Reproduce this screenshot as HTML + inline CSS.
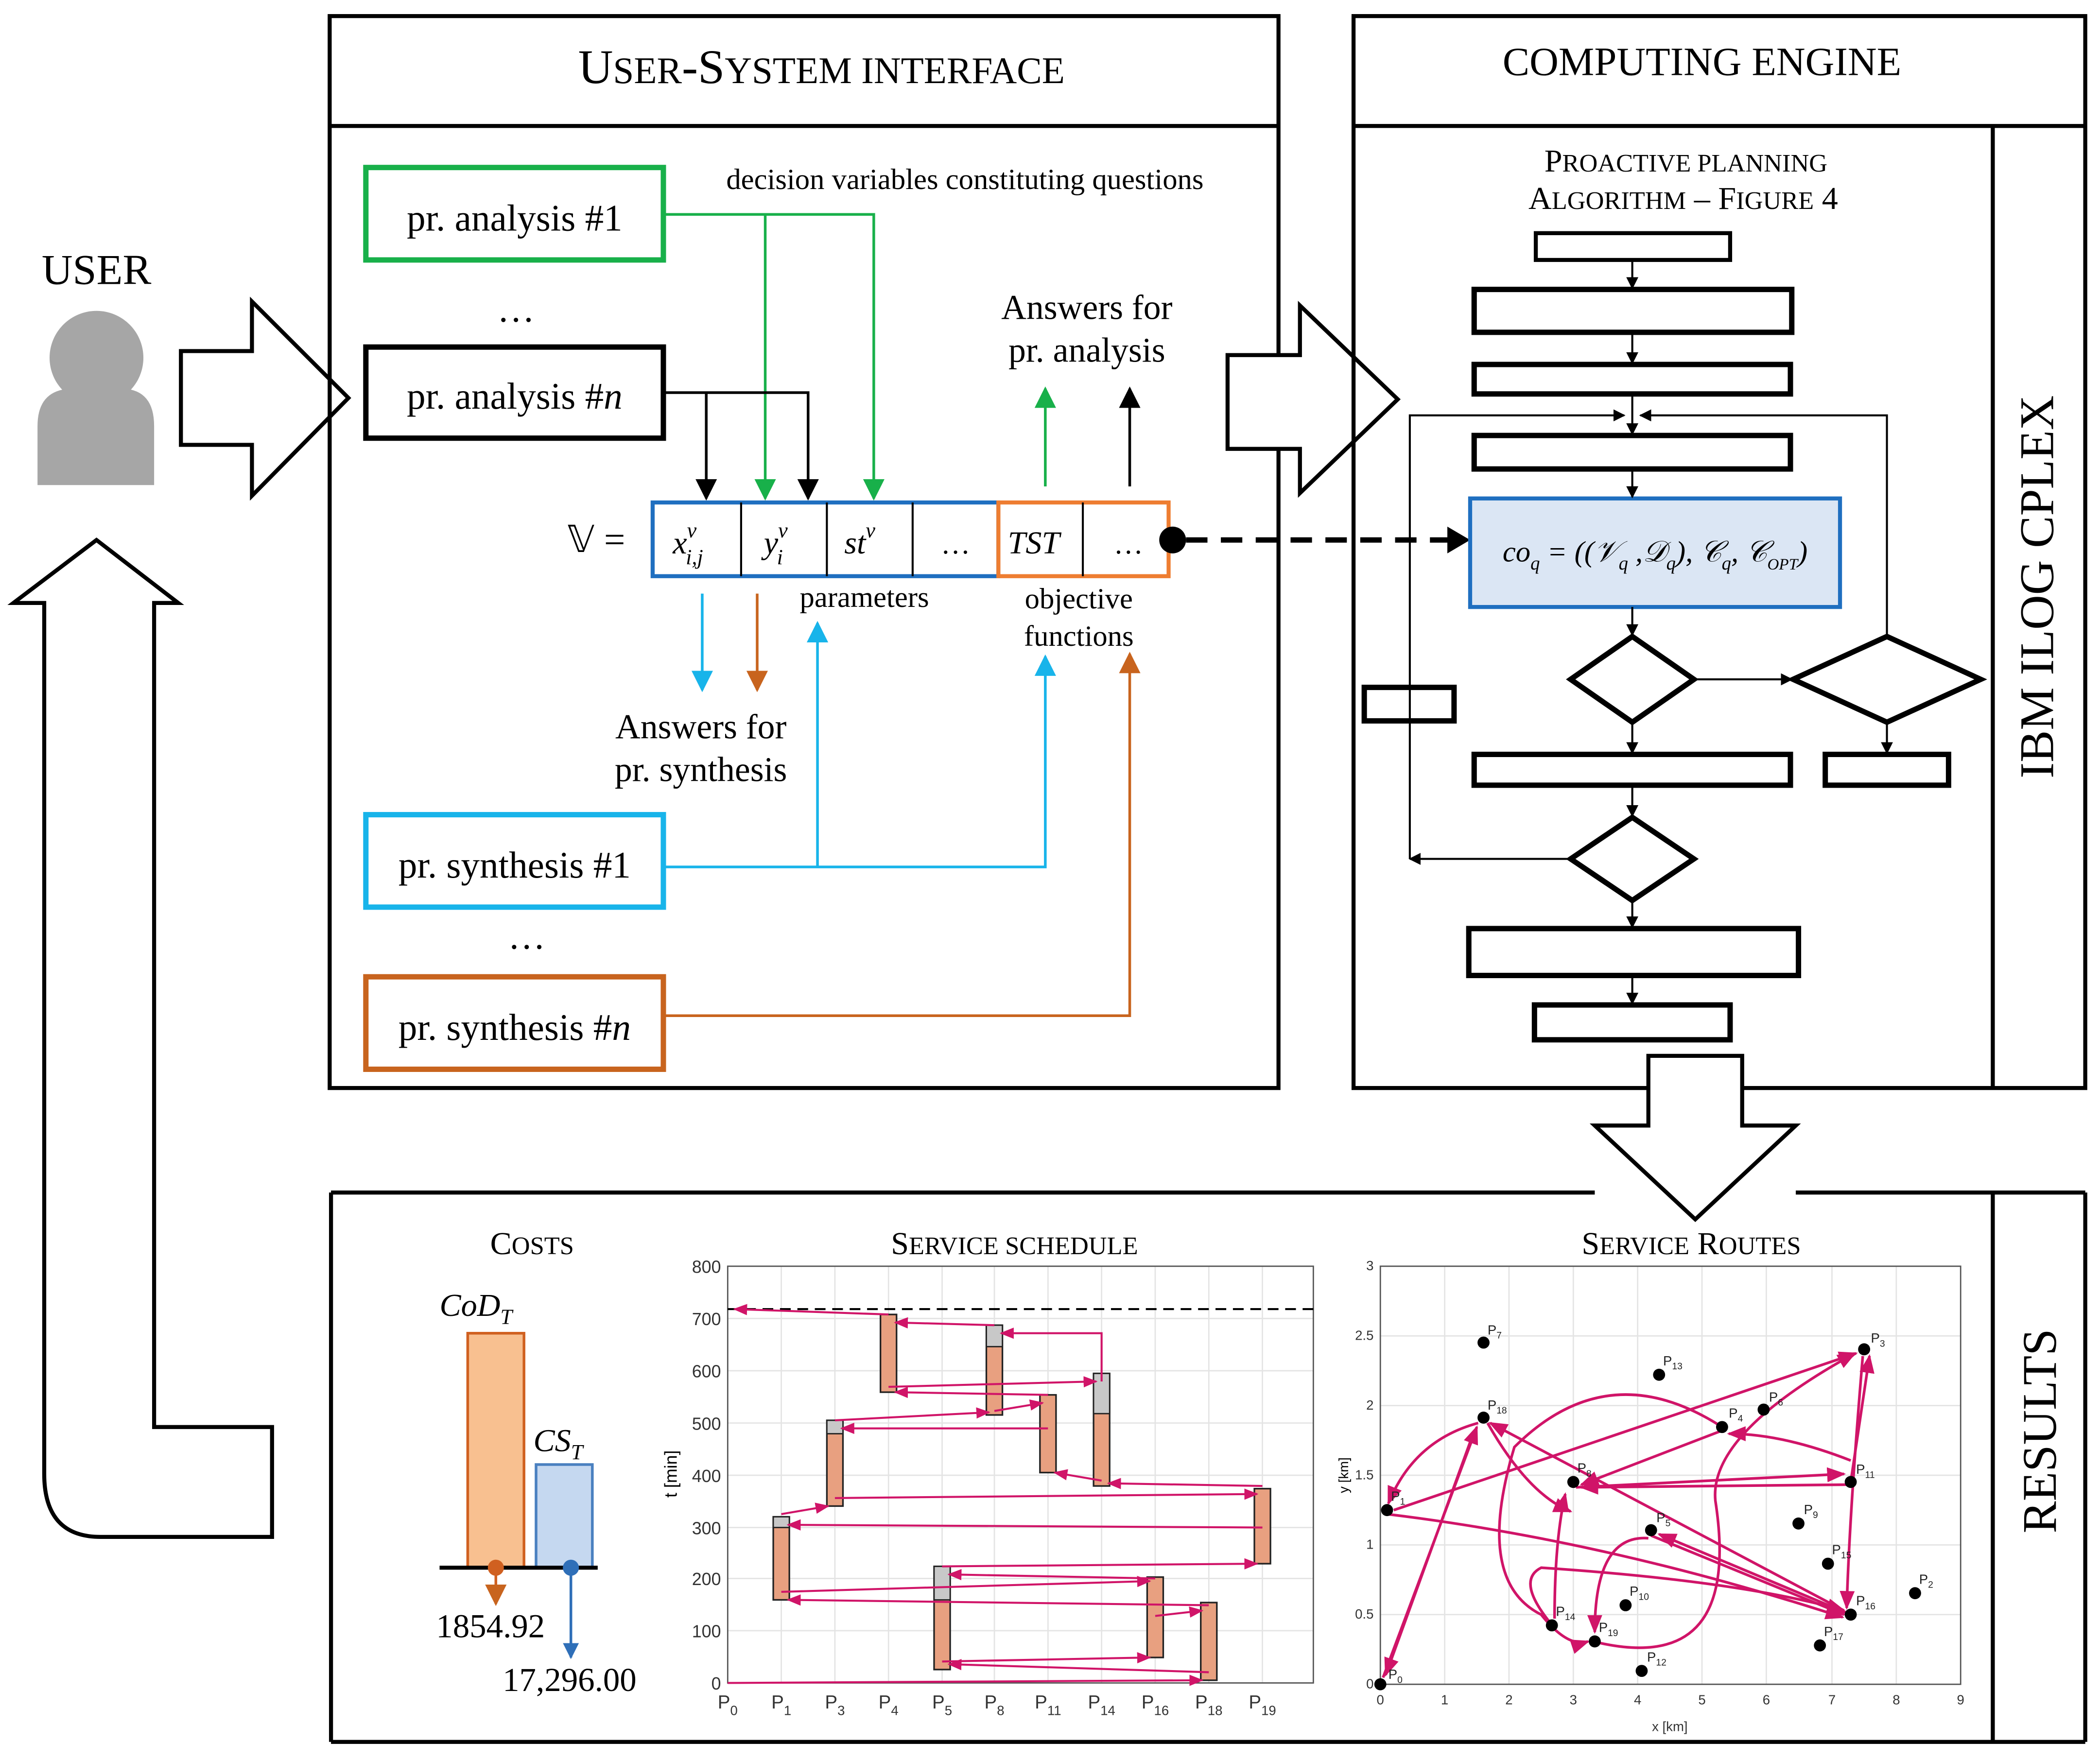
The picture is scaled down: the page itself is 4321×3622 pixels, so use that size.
<!DOCTYPE html>
<html><head><meta charset="utf-8"><style>html,body{margin:0;padding:0;background:#fff}svg{display:block}</style></head><body>
<svg width="4321" height="3622" viewBox="0 0 1567 1313.5" xmlns="http://www.w3.org/2000/svg" font-family="Liberation Serif, serif">
<defs>
<marker id="ab" viewBox="0 0 10 10" refX="9" refY="5" markerWidth="8" markerHeight="8" orient="auto-start-reverse"><path d="M0,0L10,5L0,10z" fill="#000"/></marker>
<marker id="ag" viewBox="0 0 10 10" refX="9" refY="5" markerWidth="8" markerHeight="8" orient="auto"><path d="M0,0L10,5L0,10z" fill="#18b04a"/></marker>
<marker id="ac" viewBox="0 0 10 10" refX="9" refY="5" markerWidth="8" markerHeight="8" orient="auto"><path d="M0,0L10,5L0,10z" fill="#18b4ea"/></marker>
<marker id="ao" viewBox="0 0 10 10" refX="9" refY="5" markerWidth="8" markerHeight="8" orient="auto"><path d="M0,0L10,5L0,10z" fill="#c8641e"/></marker>
<marker id="ab2" viewBox="0 0 10 10" refX="9" refY="5" markerWidth="6" markerHeight="6" orient="auto"><path d="M0,0L10,5L0,10z" fill="#2f6fb8"/></marker>
<marker id="as" viewBox="0 0 10 10" refX="9" refY="5" markerWidth="6" markerHeight="6" orient="auto"><path d="M0,0L10,5L0,10z" fill="#000"/></marker>
<marker id="am" viewBox="0 0 10 10" refX="9" refY="5" markerWidth="7" markerHeight="7" orient="auto"><path d="M0,1L10,5L0,9z" fill="#d01468"/></marker>
</defs>
<rect width="1567" height="1314" fill="#fff"/>

<!-- USER -->
<text x="72" y="212" font-size="32" text-anchor="middle">USER</text>
<circle cx="72" cy="267" r="35" fill="#a6a6a6"/>
<path d="M28,362 L28,318 Q28,290 55,290 Q72,305 90,290 Q115,290 115,318 L115,362 Z" fill="#a6a6a6"/>
<path d="M135,262 L188,262 L188,225 L260,297 L188,370 L188,332 L135,332 Z" fill="#fff" stroke="#000" stroke-width="3"/>
<path d="M33,450 L10,450 L72,403 L133,450 L115,450 L115,1065 L203,1065 L203,1147 L75,1147 Q33,1147 33,1100 Z" fill="#fff" stroke="#000" stroke-width="3"/>

<!-- User-system box -->
<rect x="246" y="12" width="708" height="800" fill="none" stroke="#000" stroke-width="3"/>
<line x1="246" y1="94" x2="954" y2="94" stroke="#000" stroke-width="3"/>
<text x="613" y="62" font-size="36" text-anchor="middle">U<tspan font-size="28">SER</tspan>-S<tspan font-size="28">YSTEM INTERFACE</tspan></text>

<rect x="273" y="125" width="222" height="69" fill="none" stroke="#18b04a" stroke-width="4"/>
<text x="384" y="172" font-size="28" text-anchor="middle">pr. analysis #1</text>
<text x="385" y="240" font-size="28" text-anchor="middle">…</text>
<rect x="273" y="259" width="222" height="68" fill="none" stroke="#000" stroke-width="4"/>
<text x="384" y="305" font-size="28" text-anchor="middle">pr. analysis #<tspan font-style="italic">n</tspan></text>
<text x="720" y="141" font-size="22" text-anchor="middle">decision variables constituting questions</text>

<path d="M495,160 L652,160 L652,372" fill="none" stroke="#18b04a" stroke-width="2" marker-end="url(#ag)"/>
<path d="M571,160 L571,372" fill="none" stroke="#18b04a" stroke-width="2" marker-end="url(#ag)"/>
<path d="M495,293 L603,293 L603,372" fill="none" stroke="#000" stroke-width="2" marker-end="url(#ab)"/>
<path d="M527,293 L527,372" fill="none" stroke="#000" stroke-width="2" marker-end="url(#ab)"/>

<text x="445" y="412" font-size="28" text-anchor="middle">𝕍 =</text>
<rect x="487" y="375" width="258" height="55" fill="none" stroke="#1f6fc0" stroke-width="3"/>
<line x1="553" y1="375" x2="553" y2="430" stroke="#000" stroke-width="1.5"/>
<line x1="617" y1="375" x2="617" y2="430" stroke="#000" stroke-width="1.5"/>
<line x1="681" y1="375" x2="681" y2="430" stroke="#000" stroke-width="1.5"/>
<rect x="745" y="375" width="127" height="55" fill="none" stroke="#ee7d31" stroke-width="3"/>
<line x1="808" y1="375" x2="808" y2="430" stroke="#000" stroke-width="1.5"/>
<g font-size="24" font-style="italic">
<text x="502" y="413">x<tspan font-size="16" dy="-12">v</tspan><tspan font-size="16" dx="-8" dy="20">i,j</tspan></text>
<text x="570" y="413">y<tspan font-size="16" dy="-12">v</tspan><tspan font-size="16" dx="-8" dy="20">i</tspan></text>
<text x="630" y="413">st<tspan font-size="16" dy="-12">v</tspan></text>
<text x="752" y="413">TST</text>
</g>
<text x="713" y="413" font-size="22" text-anchor="middle">…</text>
<text x="842" y="413" font-size="22" text-anchor="middle">…</text>
<circle cx="875" cy="403" r="10" fill="#000"/>
<line x1="885" y1="403" x2="1083" y2="403" stroke="#000" stroke-width="4" stroke-dasharray="16,10"/>
<path d="M1080,393 L1097,403 L1080,413 Z" fill="#000"/>

<text x="811" y="238" font-size="26" text-anchor="middle">Answers for</text>
<text x="811" y="270" font-size="26" text-anchor="middle">pr. analysis</text>
<line x1="780" y1="363" x2="780" y2="290" stroke="#18b04a" stroke-width="2" marker-end="url(#ag)"/>
<line x1="843" y1="363" x2="843" y2="290" stroke="#000" stroke-width="2" marker-end="url(#ab)"/>
<text x="645" y="453" font-size="22" text-anchor="middle">parameters</text>
<text x="805" y="454" font-size="22" text-anchor="middle">objective</text>
<text x="805" y="482" font-size="22" text-anchor="middle">functions</text>
<line x1="524" y1="443" x2="524" y2="515" stroke="#18b4ea" stroke-width="2" marker-end="url(#ac)"/>
<line x1="565" y1="443" x2="565" y2="515" stroke="#c8641e" stroke-width="2" marker-end="url(#ao)"/>
<text x="523" y="551" font-size="26" text-anchor="middle">Answers for</text>
<text x="523" y="583" font-size="26" text-anchor="middle">pr. synthesis</text>

<rect x="273" y="608" width="222" height="69" fill="none" stroke="#18b4ea" stroke-width="4"/>
<text x="384" y="655" font-size="28" text-anchor="middle">pr. synthesis #1</text>
<path d="M495,647 L780,647 L780,490" fill="none" stroke="#18b4ea" stroke-width="2" marker-end="url(#ac)"/>
<path d="M610,647 L610,465" fill="none" stroke="#18b4ea" stroke-width="2" marker-end="url(#ac)"/>
<text x="393" y="708" font-size="28" text-anchor="middle">…</text>
<rect x="273" y="729" width="222" height="69" fill="none" stroke="#c8641e" stroke-width="4"/>
<text x="384" y="776" font-size="28" text-anchor="middle">pr. synthesis #<tspan font-style="italic">n</tspan></text>
<path d="M495,758 L843,758 L843,488" fill="none" stroke="#c8641e" stroke-width="2" marker-end="url(#ao)"/>

<path d="M916,265 L970,265 L970,228 L1043,298 L970,368 L970,335 L916,335 Z" fill="#fff" stroke="#000" stroke-width="3"/>

<!-- Computing engine -->
<rect x="1010" y="12" width="546" height="800" fill="none" stroke="#000" stroke-width="3"/>
<line x1="1010" y1="94" x2="1556" y2="94" stroke="#000" stroke-width="3"/>
<line x1="1487" y1="94" x2="1487" y2="812" stroke="#000" stroke-width="3"/>
<text x="1270" y="56" font-size="30" text-anchor="middle">COMPUTING ENGINE</text>
<text transform="translate(1532,438) rotate(-90)" font-size="36" text-anchor="middle">IBM ILOG CPLEX</text>
<text x="1258" y="128" font-size="24" text-anchor="middle">P<tspan font-size="19">ROACTIVE PLANNING</tspan></text>
<text x="1256" y="156" font-size="24" text-anchor="middle">A<tspan font-size="19">LGORITHM</tspan> – F<tspan font-size="19">IGURE</tspan> 4</text>
<g fill="#fff" stroke="#000" stroke-width="4">
<rect x="1146" y="174" width="145" height="20" stroke-width="3"/>
<rect x="1100" y="216" width="237" height="32"/>
<rect x="1100" y="272" width="236" height="22"/>
<rect x="1100" y="325" width="236" height="25"/>
<rect x="1018" y="513" width="67" height="25"/>
<rect x="1100" y="563" width="236" height="23"/>
<rect x="1362" y="563" width="92" height="23"/>
<rect x="1096" y="693" width="246" height="35"/>
<rect x="1145" y="750" width="146" height="26"/>
<path d="M1172,507 L1218,475 L1264,507 L1218,539 Z"/>
<path d="M1338,507 L1408,475 L1478,507 L1408,539 Z"/>
<path d="M1172,641 L1218,610 L1264,641 L1218,672 Z"/>
</g>
<rect x="1097" y="372" width="276" height="81" fill="#dbe6f4" stroke="#1f6fc0" stroke-width="3"/>
<text x="1235" y="419" font-size="22" font-style="italic" text-anchor="middle">co<tspan font-size="14" dy="6">q</tspan><tspan dy="-6"> = ((𝒱</tspan><tspan font-size="14" dy="6">q</tspan><tspan dy="-6"> ,𝒟</tspan><tspan font-size="14" dy="6">q</tspan><tspan dy="-6">), 𝒞</tspan><tspan font-size="14" dy="6">q</tspan><tspan dy="-6">, 𝒞</tspan><tspan font-size="12" dy="6">OPT</tspan><tspan dy="-6">)</tspan></text>
<g stroke="#000" stroke-width="1.5" fill="none">
<line x1="1218" y1="194" x2="1218" y2="215" marker-end="url(#as)"/>
<line x1="1218" y1="248" x2="1218" y2="271" marker-end="url(#as)"/>
<line x1="1218" y1="294" x2="1218" y2="324" marker-end="url(#as)"/>
<line x1="1218" y1="350" x2="1218" y2="371" marker-end="url(#as)"/>
<line x1="1218" y1="453" x2="1218" y2="474" marker-end="url(#as)"/>
<line x1="1218" y1="539" x2="1218" y2="562" marker-end="url(#as)"/>
<line x1="1218" y1="586" x2="1218" y2="609" marker-end="url(#as)"/>
<line x1="1218" y1="672" x2="1218" y2="692" marker-end="url(#as)"/>
<line x1="1218" y1="728" x2="1218" y2="749" marker-end="url(#as)"/>
<line x1="1264" y1="507" x2="1337" y2="507" marker-end="url(#as)"/>
<line x1="1408" y1="539" x2="1408" y2="562" marker-end="url(#as)"/>
<path d="M1172,641 L1052,641" marker-end="url(#as)"/>
<path d="M1052,641 L1052,310 L1212,310" marker-end="url(#as)"/>
<path d="M1408,475 L1408,310 L1224,310" marker-end="url(#as)"/>
</g>

<!-- Results -->
<g stroke="#000" stroke-width="3" fill="none">
<line x1="247" y1="890" x2="1190" y2="890"/>
<line x1="1340" y1="890" x2="1556" y2="890"/>
<line x1="1556" y1="890" x2="1556" y2="1300"/>
<line x1="247" y1="1300" x2="1556" y2="1300"/>
<line x1="247" y1="890" x2="247" y2="1300"/>
<line x1="1487" y1="890" x2="1487" y2="1300"/>
</g>
<path d="M1230,788 L1300,788 L1300,840 L1340,840 L1265,910 L1190,840 L1230,840 Z" fill="#fff" stroke="#000" stroke-width="3"/>
<text transform="translate(1534,1068) rotate(-90)" font-size="36" text-anchor="middle">RESULTS</text>

<text x="397" y="936" font-size="24" text-anchor="middle">C<tspan font-size="19">OSTS</tspan></text>
<rect x="349" y="995" width="42" height="175" fill="#f8c090" stroke="#d06020" stroke-width="2"/>
<rect x="400" y="1093" width="42" height="77" fill="#c5d8f0" stroke="#4a80c0" stroke-width="2"/>
<line x1="328" y1="1170" x2="446" y2="1170" stroke="#000" stroke-width="3"/>
<text x="328" y="982" font-size="24" font-style="italic">CoD<tspan font-size="16" dy="6">T</tspan></text>
<text x="398" y="1083" font-size="24" font-style="italic">CS<tspan font-size="16" dy="6">T</tspan></text>
<circle cx="370" cy="1170" r="6" fill="#d06020"/>
<line x1="370" y1="1170" x2="370" y2="1197" stroke="#d06020" stroke-width="2" marker-end="url(#ao)"/>
<circle cx="426" cy="1170" r="6" fill="#2f6fb8"/>
<line x1="426" y1="1170" x2="426" y2="1237" stroke="#2f6fb8" stroke-width="2" marker-end="url(#ab2)"/>
<text x="366" y="1222" font-size="25" text-anchor="middle">1854.92</text>
<text x="425" y="1262" font-size="25" text-anchor="middle">17,296.00</text>

<!-- Schedule -->
<text x="757" y="936" font-size="24" text-anchor="middle">S<tspan font-size="19">ERVICE SCHEDULE</tspan></text>
<g stroke="#e4e4e4" stroke-width="1">
<line x1="543" y1="1217" x2="980" y2="1217"/><line x1="543" y1="1178" x2="980" y2="1178"/><line x1="543" y1="1140" x2="980" y2="1140"/><line x1="543" y1="1101" x2="980" y2="1101"/><line x1="543" y1="1062" x2="980" y2="1062"/><line x1="543" y1="1023" x2="980" y2="1023"/><line x1="543" y1="984" x2="980" y2="984"/>
<line x1="583" y1="945" x2="583" y2="1256"/><line x1="623" y1="945" x2="623" y2="1256"/><line x1="663" y1="945" x2="663" y2="1256"/><line x1="703" y1="945" x2="703" y2="1256"/><line x1="742" y1="945" x2="742" y2="1256"/><line x1="782" y1="945" x2="782" y2="1256"/><line x1="822" y1="945" x2="822" y2="1256"/><line x1="862" y1="945" x2="862" y2="1256"/><line x1="902" y1="945" x2="902" y2="1256"/><line x1="942" y1="945" x2="942" y2="1256"/>
</g>
<rect x="543" y="945" width="437" height="311" fill="none" stroke="#555" stroke-width="1"/>
<line x1="543" y1="977" x2="980" y2="977" stroke="#000" stroke-width="1.5" stroke-dasharray="8,5"/>
<g font-family="Liberation Sans, sans-serif" font-size="13" fill="#333" text-anchor="end">
<text x="538" y="1261">0</text><text x="538" y="1222">100</text><text x="538" y="1183">200</text><text x="538" y="1145">300</text><text x="538" y="1106">400</text><text x="538" y="1067">500</text><text x="538" y="1028">600</text><text x="538" y="989">700</text><text x="538" y="950">800</text>
</g>
<text transform="translate(505,1100) rotate(-90)" font-family="Liberation Sans, sans-serif" font-size="13" text-anchor="middle">t [min]</text>
<g font-family="Liberation Sans, sans-serif" font-size="14" fill="#333" text-anchor="middle">
<text x="543" y="1275">P<tspan font-size="10" dy="5">0</tspan></text><text x="583" y="1275">P<tspan font-size="10" dy="5">1</tspan></text><text x="623" y="1275">P<tspan font-size="10" dy="5">3</tspan></text><text x="663" y="1275">P<tspan font-size="10" dy="5">4</tspan></text><text x="703" y="1275">P<tspan font-size="10" dy="5">5</tspan></text><text x="742" y="1275">P<tspan font-size="10" dy="5">8</tspan></text><text x="782" y="1275">P<tspan font-size="10" dy="5">11</tspan></text><text x="822" y="1275">P<tspan font-size="10" dy="5">14</tspan></text><text x="862" y="1275">P<tspan font-size="10" dy="5">16</tspan></text><text x="902" y="1275">P<tspan font-size="10" dy="5">18</tspan></text><text x="942" y="1275">P<tspan font-size="10" dy="5">19</tspan></text>
</g>
<g stroke="#222" stroke-width="1.2" fill="#e8a080">
<rect x="577" y="1132" width="12" height="62" /><rect x="617" y="1060" width="12" height="64"/><rect x="657" y="981" width="12" height="58"/><rect x="697" y="1169" width="12" height="77"/><rect x="736" y="989" width="12" height="67"/><rect x="776" y="1041" width="12" height="58"/><rect x="816" y="1025" width="12" height="84"/><rect x="856" y="1177" width="12" height="60"/><rect x="896" y="1196" width="12" height="58"/><rect x="936" y="1111" width="12" height="56"/>
</g>
<g fill="#c8c8c8" stroke="#222" stroke-width="1">
<rect x="577" y="1132" width="12" height="8"/><rect x="617" y="1060" width="12" height="10"/><rect x="736" y="989" width="12" height="16"/><rect x="816" y="1025" width="12" height="30"/><rect x="697" y="1169" width="12" height="25"/>
</g>
<g stroke="#d01468" stroke-width="1.5" fill="none" marker-end="url(#am)">
<line x1="543" y1="1256" x2="897" y2="1254"/><line x1="902" y1="1248" x2="708" y2="1242"/><line x1="703" y1="1240" x2="858" y2="1237"/><path d="M862,1206 L897,1202"/>
<line x1="902" y1="1198" x2="588" y2="1194"/><line x1="583" y1="1188" x2="858" y2="1180"/><line x1="862" y1="1178" x2="708" y2="1175"/><line x1="703" y1="1169" x2="938" y2="1167"/>
<path d="M942,1140 L588,1138"/><line x1="583" y1="1130" x2="618" y2="1124"/><line x1="623" y1="1118" x2="938" y2="1115"/><line x1="942" y1="1109" x2="827" y2="1107"/>
<line x1="822" y1="1105" x2="787" y2="1099"/><path d="M782,1066 L628,1066"/><line x1="623" y1="1060" x2="738" y2="1054"/><line x1="742" y1="1053" x2="778" y2="1047"/>
<line x1="782" y1="1041" x2="668" y2="1039"/><line x1="663" y1="1035" x2="818" y2="1031"/><path d="M822,1031 L822,995 L747,995"/><line x1="742" y1="989" x2="668" y2="987"/><line x1="663" y1="981" x2="548" y2="977"/>
</g>

<!-- Routes -->
<text x="1262" y="936" font-size="24" text-anchor="middle">S<tspan font-size="19">ERVICE</tspan> R<tspan font-size="19">OUTES</tspan></text>
<g stroke="#e4e4e4" stroke-width="1">
<line x1="1078" y1="945" x2="1078" y2="1257"/><line x1="1126" y1="945" x2="1126" y2="1257"/><line x1="1174" y1="945" x2="1174" y2="1257"/><line x1="1222" y1="945" x2="1222" y2="1257"/><line x1="1270" y1="945" x2="1270" y2="1257"/><line x1="1318" y1="945" x2="1318" y2="1257"/><line x1="1367" y1="945" x2="1367" y2="1257"/><line x1="1415" y1="945" x2="1415" y2="1257"/>
<line x1="1030" y1="1205" x2="1463" y2="1205"/><line x1="1030" y1="1153" x2="1463" y2="1153"/><line x1="1030" y1="1101" x2="1463" y2="1101"/><line x1="1030" y1="1049" x2="1463" y2="1049"/><line x1="1030" y1="997" x2="1463" y2="997"/>
</g>
<rect x="1030" y="945" width="433" height="312" fill="none" stroke="#555" stroke-width="1"/>
<g font-family="Liberation Sans, sans-serif" font-size="10" fill="#333" text-anchor="middle">
<text x="1030" y="1272">0</text><text x="1078" y="1272">1</text><text x="1126" y="1272">2</text><text x="1174" y="1272">3</text><text x="1222" y="1272">4</text><text x="1270" y="1272">5</text><text x="1318" y="1272">6</text><text x="1367" y="1272">7</text><text x="1415" y="1272">8</text><text x="1463" y="1272">9</text>
<text x="1246" y="1292">x [km]</text>
</g>
<g font-family="Liberation Sans, sans-serif" font-size="10" fill="#333" text-anchor="end">
<text x="1025" y="1260">0</text><text x="1025" y="1208">0.5</text><text x="1025" y="1156">1</text><text x="1025" y="1104">1.5</text><text x="1025" y="1052">2</text><text x="1025" y="1000">2.5</text><text x="1025" y="948">3</text>
</g>
<text transform="translate(1006,1101) rotate(-90)" font-family="Liberation Sans, sans-serif" font-size="10" text-anchor="middle">y [km]</text>
<g stroke="#d01468" stroke-width="2" fill="none" marker-end="url(#am)">
<path d="M1032,1252 L1102,1065"/>
<path d="M1103,1062 Q1055,1075 1036,1122"/>
<path d="M1040,1127 L1385,1010"/>
<path d="M1390,1012 Q1380,1130 1378,1200"/>
<path d="M1376,1202 L1112,1062"/>
<path d="M1110,1062 Q1140,1115 1172,1128"/>
<path d="M1176,1110 L1376,1100"/>
<path d="M1378,1108 L1180,1110"/>
<path d="M1285,1065 Q1200,1010 1130,1080 Q1100,1180 1150,1205 Q1170,1230 1185,1225"/>
<path d="M1193,1226 Q1300,1250 1280,1120 Q1275,1070 1384,1010"/>
<path d="M1160,1208 Q1160,1150 1168,1115"/>
<path d="M1232,1146 L1376,1205"/>
<path d="M1381,1205 L1238,1145"/>
<path d="M1230,1148 Q1190,1145 1190,1218"/>
<path d="M1035,1130 Q1200,1150 1375,1207"/>
<path d="M1381,1090 Q1330,1070 1290,1070"/>
<path d="M1284,1068 L1180,1108"/>
<path d="M1160,1215 Q1130,1180 1150,1170 Q1300,1180 1376,1202"/>
<path d="M1100,1068 L1034,1250"/>
<path d="M1381,1106 L1395,1012"/>
</g>
<g fill="#000">
<circle cx="1030" cy="1257" r="4.5"/><circle cx="1035" cy="1127" r="4.5"/><circle cx="1429" cy="1189" r="4.5"/><circle cx="1391" cy="1007" r="4.5"/><circle cx="1285" cy="1065" r="4.5"/><circle cx="1232" cy="1142" r="4.5"/><circle cx="1316" cy="1052" r="4.5"/><circle cx="1107" cy="1002" r="4.5"/><circle cx="1174" cy="1106" r="4.5"/><circle cx="1342" cy="1137" r="4.5"/><circle cx="1213" cy="1198" r="4.5"/><circle cx="1381" cy="1106" r="4.5"/><circle cx="1225" cy="1247" r="4.5"/><circle cx="1238" cy="1026" r="4.5"/><circle cx="1158" cy="1213" r="4.5"/><circle cx="1364" cy="1167" r="4.5"/><circle cx="1381" cy="1205" r="4.5"/><circle cx="1358" cy="1228" r="4.5"/><circle cx="1107" cy="1058" r="4.5"/><circle cx="1190" cy="1225" r="4.5"/>
</g>
<g font-family="Liberation Sans, sans-serif" font-size="10" fill="#222">
<text x="1036" y="1253">P<tspan font-size="7" dy="3">0</tspan></text><text x="1038" y="1120">P<tspan font-size="7" dy="3">1</tspan></text><text x="1432" y="1182">P<tspan font-size="7" dy="3">2</tspan></text><text x="1396" y="1002">P<tspan font-size="7" dy="3">3</tspan></text><text x="1290" y="1058">P<tspan font-size="7" dy="3">4</tspan></text><text x="1236" y="1136">P<tspan font-size="7" dy="3">5</tspan></text><text x="1320" y="1046">P<tspan font-size="7" dy="3">6</tspan></text><text x="1110" y="996">P<tspan font-size="7" dy="3">7</tspan></text><text x="1177" y="1099">P<tspan font-size="7" dy="3">8</tspan></text><text x="1346" y="1130">P<tspan font-size="7" dy="3">9</tspan></text><text x="1216" y="1191">P<tspan font-size="7" dy="3">10</tspan></text><text x="1385" y="1100">P<tspan font-size="7" dy="3">11</tspan></text><text x="1229" y="1240">P<tspan font-size="7" dy="3">12</tspan></text><text x="1241" y="1019">P<tspan font-size="7" dy="3">13</tspan></text><text x="1161" y="1206">P<tspan font-size="7" dy="3">14</tspan></text><text x="1367" y="1160">P<tspan font-size="7" dy="3">15</tspan></text><text x="1385" y="1198">P<tspan font-size="7" dy="3">16</tspan></text><text x="1361" y="1221">P<tspan font-size="7" dy="3">17</tspan></text><text x="1110" y="1052">P<tspan font-size="7" dy="3">18</tspan></text><text x="1193" y="1218">P<tspan font-size="7" dy="3">19</tspan></text>
</g>
</svg>
</body></html>
